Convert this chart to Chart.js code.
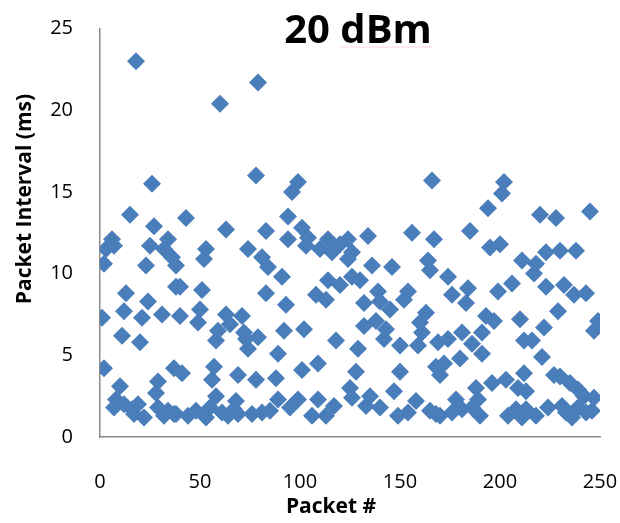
<!DOCTYPE html>
<html>
<head>
<meta charset="utf-8">
<script src="https://cdn.jsdelivr.net/npm/chart.js@4/dist/chart.umd.min.js"></script>
<style>
  body { margin: 0; background: #fff; }
  canvas { display: block; }
</style>
</head>
<body>
<canvas id="chart" width="620" height="523"></canvas>
<script>
// values (packet number, interval in ms)
const packetNo = [
  1, 2, 2, 3, 6, 7, 7, 8, 10, 11, 12, 12, 13, 15, 16, 17, 18, 19, 20, 21,
  22, 23, 24, 25, 26, 27, 28, 29, 29, 31, 32, 32, 34, 34, 36, 37, 37, 38, 38, 38,
  40, 40, 41, 43, 44, 48, 49, 50, 51, 52, 53, 53, 55, 56, 57, 58, 58, 59, 60, 61,
  63, 63, 64, 65, 67, 68, 69, 69, 71, 72, 73, 74, 74, 76, 78, 78, 79, 79, 81, 81,
  83, 83, 84, 85, 88, 89, 89, 91, 92, 93, 94, 94, 95, 96, 99, 99, 101, 101, 102, 103,
  104, 106, 108, 109, 109, 110, 113, 113, 114, 114, 116, 117, 118, 120, 120, 124, 124, 125, 126, 126,
  126, 128, 129, 130, 132, 132, 133, 134, 135, 136, 138, 139, 140, 140, 142, 143, 145, 146, 147, 149,
  150, 150, 152, 154, 154, 156, 158, 159, 160, 161, 163, 164, 165, 165, 166, 167, 168, 168, 169, 170,
  170, 172, 174, 174, 176, 176, 178, 180, 181, 181, 183, 184, 185, 186, 186, 188, 189, 190, 191, 191,
  193, 194, 195, 196, 197, 199, 200, 201, 202, 203, 204, 206, 208, 209, 210, 211, 211, 212, 212, 213,
  213, 216, 217, 218, 218, 220, 221, 222, 223, 223, 224, 227, 228, 229, 230, 230, 231, 232, 233, 235,
  236, 237, 238, 239, 239, 242, 243, 243, 245, 246, 247, 247, 249
];
const intervalMs = [
  7.3, 10.6, 4.2, 11.5, 12.1, 11.7, 1.8, 2.3, 3.1, 6.2, 7.7, 2.0, 8.8, 13.6, 1.7, 1.4, 23.0, 2.0, 5.8, 7.3,
  1.2, 10.5, 8.3, 11.7, 15.5, 12.9, 2.7, 3.4, 1.8, 7.5, 11.5, 1.3, 12.1, 1.6, 11.0, 4.2, 1.4, 9.2, 10.5, 1.4,
  9.2, 7.4, 3.9, 13.4, 1.3, 1.6, 7.0, 7.8, 9.0, 10.9, 11.5, 1.2, 1.8, 3.5, 4.3, 5.9, 2.5, 6.5, 20.4, 1.5,
  12.7, 7.5, 1.3, 6.9, 1.7, 2.2, 3.8, 1.4, 7.4, 6.4, 6.0, 11.5, 5.4, 1.4, 16.0, 3.5, 21.7, 6.1, 11.0, 1.5,
  12.6, 8.8, 10.4, 1.6, 3.6, 5.1, 2.3, 9.8, 6.5, 8.1, 13.5, 12.1, 1.8, 15.0, 15.6, 2.3, 12.8, 4.1, 6.6, 11.7,
  12.2, 1.3, 8.7, 4.5, 2.3, 11.5, 8.4, 1.3, 12.1, 9.6, 11.3, 1.9, 5.9, 11.8, 9.3, 12.1, 10.9, 3.0, 11.3, 9.8,
  2.4, 4.0, 5.4, 9.6, 8.2, 6.8, 1.9, 12.3, 2.5, 10.5, 7.1, 8.9, 8.3, 1.8, 6.0, 6.6, 7.8, 10.4, 2.8, 1.3,
  5.6, 4.0, 8.4, 8.9, 1.5, 12.5, 2.2, 5.6, 7.0, 6.4, 7.6, 10.8, 10.2, 1.6, 15.7, 12.1, 4.3, 1.4, 5.8, 3.8,
  1.3, 4.5, 9.8, 6.0, 8.7, 1.5, 2.3, 4.8, 6.4, 1.7, 8.2, 9.1, 12.6, 5.7, 1.8, 3.0, 2.3, 1.3, 6.4, 5.1,
  7.4, 14.0, 11.6, 3.3, 7.1, 8.9, 11.8, 14.9, 15.6, 3.5, 1.3, 9.4, 1.7, 3.0, 7.2, 10.8, 1.2, 5.9, 3.9, 2.8,
  1.7, 5.9, 10.0, 10.6, 1.3, 13.6, 4.9, 6.7, 11.3, 9.2, 1.8, 3.8, 13.4, 7.7, 11.4, 3.7, 1.9, 9.3, 1.5, 3.3,
  1.2, 8.7, 11.4, 2.9, 1.8, 2.5, 8.8, 1.5, 13.8, 1.6, 6.5, 2.4, 7.1
];
const xTicks = [0, 50, 100, 150, 200, 250];
const yTicks = [0, 5, 10, 15, 20, 25];

const chartTitle = '20 dBm';
const xTitle = 'Packet #';
const yTitle = 'Packet Interval (ms)';

const points = packetNo.map((p, i) => ({ x: p, y: intervalMs[i] }));

// excel puts the titles a bit off-centre, so they are drawn by hand
const titlesPlugin = {
  id: 'titles',
  afterDraw(chart) {
    const ctx = chart.ctx;
    ctx.save();
    ctx.fillStyle = '#000';
    ctx.textAlign = 'center';
    ctx.textBaseline = 'alphabetic';

    ctx.font = 'bold 40px "Open Sans"';
    ctx.fillText(chartTitle, 358, 43);
    // spell-check squiggle under "dBm"
    ctx.strokeStyle = 'rgba(240,140,140,0.35)';
    ctx.lineWidth = 1;
    ctx.beginPath();
    ctx.moveTo(340, 47);
    ctx.lineTo(433, 47);
    ctx.stroke();

    ctx.font = 'bold 21px "Open Sans"';
    ctx.fillText(xTitle, 331, 513);

    ctx.translate(31, 199);
    ctx.rotate(-Math.PI / 2);
    ctx.fillText(yTitle, 0, 0);
    ctx.restore();
  }
};

const tickFont = { family: '"Open Sans"', size: 20 };
const axisBorder = { display: true, color: '#8a8a8a', width: 1.5 };

new Chart(document.getElementById('chart'), {
  type: 'scatter',
  data: {
    datasets: [{
      data: points,
      pointStyle: 'rectRot',
      pointRadius: 9,
      pointHoverRadius: 9,
      borderWidth: 0,
      backgroundColor: '#4A7EBB',
      borderColor: '#4A7EBB',
    }]
  },
  options: {
    responsive: false,
    animation: false,
    layout: { padding: { top: 28.5, right: 20, left: 0, bottom: 0 } },
    scales: {
      x: {
        type: 'linear',
        min: 0,
        max: 250,
        afterBuildTicks: s => { s.ticks = xTicks.map(v => ({ value: v })); },
        afterFit: s => { s.height = 86; s.paddingLeft = 0; s.paddingRight = 0; },
        ticks: { font: tickFont, color: '#000', padding: 33, maxRotation: 0 },
        grid: { display: false, drawTicks: false },
        border: axisBorder,
      },
      y: {
        min: 0,
        max: 25,
        afterBuildTicks: s => { s.ticks = yTicks.map(v => ({ value: v })); },
        afterFit: s => { s.width = 100; s.paddingTop = 0; s.paddingBottom = 0; },
        ticks: { font: tickFont, color: '#000', padding: 27 },
        grid: { display: false, drawTicks: false },
        border: axisBorder,
      }
    },
    plugins: {
      legend: { display: false },
      tooltip: { enabled: false },
    }
  },
  plugins: [titlesPlugin]
});
</script>
</body>
</html>
